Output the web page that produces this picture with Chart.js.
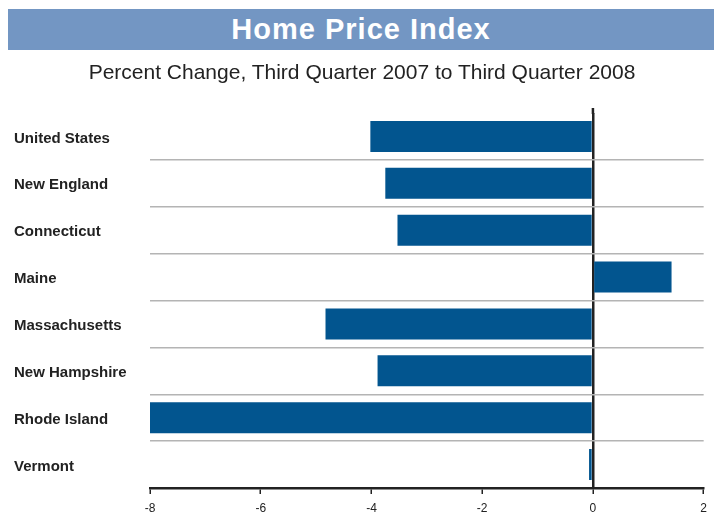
<!DOCTYPE html>
<html>
<head>
<meta charset="utf-8">
<script src="https://cdn.jsdelivr.net/npm/chart.js@4/dist/chart.umd.min.js"></script>
<style>
  html, body { margin: 0; padding: 0; background: #fff; }
  #wrap { position: relative; width: 714px; height: 527px; }
  #banner {
    position: absolute; left: 8px; top: 9px; width: 706px; height: 41px;
    background: #7396c3; color: #fff;
    font: bold 29px "Liberation Sans", Arial, sans-serif; letter-spacing: 1px;
    text-align: center; line-height: 41px;
  }
  #sub {
    position: absolute; left: 0; top: 60px; width: 724px; text-align: center;
    font: 21px "Liberation Sans", Arial, sans-serif; color: #222;
  }
  canvas { position: absolute; left: 0; top: 0; }
</style>
</head>
<body>
<div id="wrap">
  <canvas id="chart" width="714" height="527"></canvas>
  <div id="banner">Home Price Index</div>
  <div id="sub">Percent Change, Third Quarter 2007 to Third Quarter 2008</div>
</div>
<script>
// Home price index, % change Q3 2007 -> Q3 2008
const regions = [
  "United States", "New England", "Connecticut", "Maine",
  "Massachusetts", "New Hampshire", "Rhode Island", "Vermont"
];
const pctChange = [-4.02, -3.75, -3.53, 1.42, -4.83, -3.89, -8.0, -0.07];
const xTicks = [-8, -6, -4, -2, 0, 2];

const BAR_BLUE = "#02558f";
const INK = "#222";

// zero line pokes a little above the plot area, like the original
const zeroStub = {
  id: "zeroStub",
  afterDraw(chart) {
    const { ctx, chartArea, scales } = chart;
    const x = scales.x.getPixelForValue(0);
    ctx.save();
    ctx.strokeStyle = INK;
    ctx.lineWidth = 2.5;
    ctx.beginPath();
    ctx.moveTo(x, chartArea.top - 5);
    ctx.lineTo(x, chartArea.top + 1);
    ctx.stroke();
    ctx.restore();
  },
};

new Chart(document.getElementById("chart"), {
  type: "bar",
  data: {
    labels: regions,
    datasets: [{
      data: pctChange,
      backgroundColor: BAR_BLUE,
      borderWidth: 0,
      barPercentage: 0.66,
      categoryPercentage: 1.0,
    }],
  },
  plugins: [zeroStub],
  options: {
    indexAxis: "y",
    responsive: false,
    animation: false,
    layout: { padding: { top: 113, left: 14, right: 9, bottom: 0 } },
    plugins: {
      legend: { display: false },
      tooltip: { enabled: false },
    },
    scales: {
      x: {
        min: -8,
        max: 2,
        afterBuildTicks: (scale) => { scale.ticks = xTicks.map((v) => ({ value: v })); },
        afterFit: (scale) => { scale.height = 39; },
        border: { display: true, color: INK, width: 2.5 },
        grid: {
          drawOnChartArea: true,
          color: (ctx) => (ctx.tick && ctx.tick.value === 0 ? INK : "transparent"),
          lineWidth: 2.5,
          tickColor: INK,
          tickWidth: 1.5,
          tickLength: 6,
        },
        ticks: {
          color: INK,
          padding: 7,
          font: { family: "'Liberation Sans', Arial, sans-serif", size: 12 },
        },
      },
      y: {
        afterFit: (scale) => { scale.width = 136; },
        border: { display: false },
        grid: {
          offset: true,
          drawTicks: false,
          color: (ctx) => (ctx.index > 0 ? "#b4b4b4" : "transparent"),
          lineWidth: 1.5,
        },
        ticks: {
          crossAlign: "far",
          labelOffset: 2,
          color: INK,
          font: { family: "'Liberation Sans', Arial, sans-serif", size: 15, weight: "bold" },
        },
      },
    },
  },
});
</script>
</body>
</html>
